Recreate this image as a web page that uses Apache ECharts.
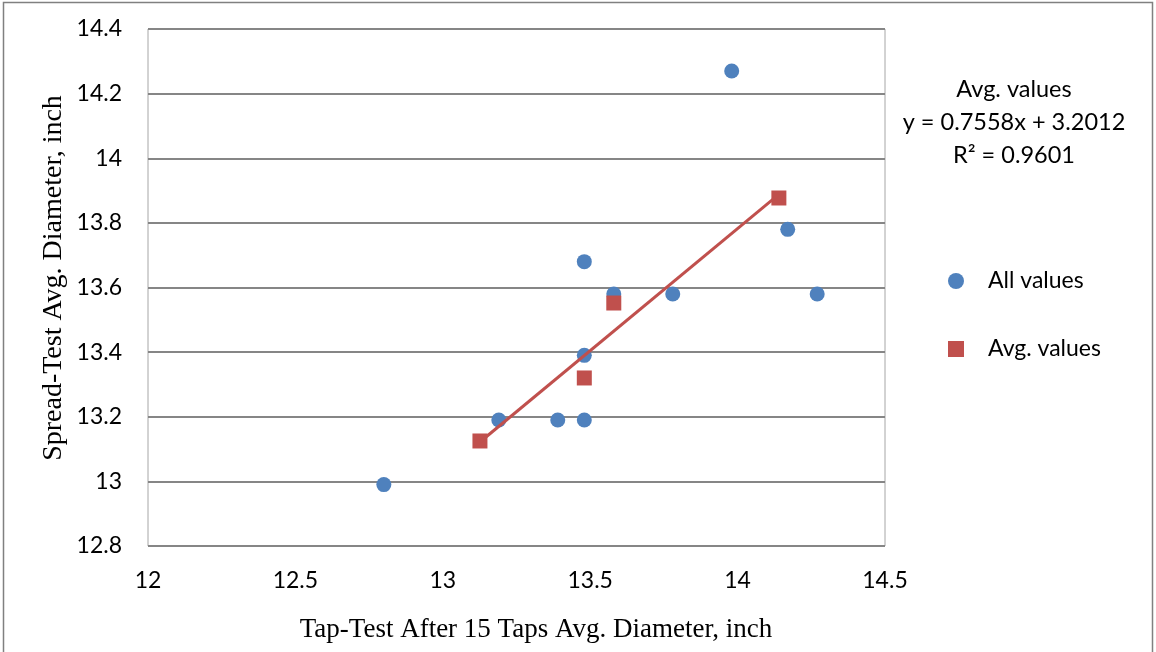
<!DOCTYPE html>
<html><head><meta charset="utf-8">
<script src="https://cdn.jsdelivr.net/npm/echarts@6/dist/echarts.min.js"></script>
<style>html,body{margin:0;padding:0;background:#fff}#c{width:1156px;height:652px}</style>
</head><body><div id="c"></div>
<script>
const allX = [12.80, 13.19, 13.39, 13.48, 13.48, 13.48, 13.58, 13.78, 14.27, 14.17, 13.98];
const allY = [12.99, 13.19, 13.19, 13.19, 13.39, 13.68, 13.58, 13.58, 13.58, 13.78, 14.27];
const avgX = [13.126, 13.48, 13.58, 14.14];
const avgY = [13.125, 13.32, 13.552, 13.877];
const trendSlope = 0.7558, trendIntercept = 3.2012;
const trendX = [13.126, 14.14];
const trendLabel = ['Avg. values', 'y = 0.7558x + 3.2012', 'R\u00b2 = 0.9601'];
const xTitle = 'Tap-Test After 15 Taps Avg. Diameter, inch';
const yTitle = 'Spread-Test Avg. Diameter, inch';

const font = 'Lato, "Open Sans", sans-serif';
const serif = '"Liberation Serif", serif';
const chart = echarts.init(document.getElementById('c'), null, {renderer: 'canvas'});
chart.setOption({
  animation: false,
  backgroundColor: '#fff',
  grid: {left: 148, right: 271, top: 29, bottom: 106, show: true, borderColor: '#a6a6a6', borderWidth: 1},
  xAxis: {
    type: 'value', min: 12, max: 14.5, interval: 0.5,
    axisLine: {show: false}, axisTick: {show: false}, splitLine: {show: false},
    axisLabel: {fontFamily: font, fontSize: 23, color: '#000', margin: 23}
  },
  yAxis: {
    type: 'value', min: 12.8, max: 14.4, interval: 0.2,
    axisLine: {show: false}, axisTick: {show: false},
    splitLine: {show: true, lineStyle: {color: '#868686', width: 2}},
    axisLabel: {fontFamily: font, fontSize: 23, color: '#000', margin: 26,
      formatter: v => String(Math.round(v * 10) / 10)}
  },
  legend: {
    orient: 'vertical', left: 943, top: 264, itemGap: 44,
    itemWidth: 16, itemHeight: 16,
    data: [{name: 'All values', icon: 'circle'}, {name: 'Avg. values', icon: 'rect'}],
    textStyle: {fontFamily: font, fontSize: 23, lineHeight: 24, color: '#000', padding: [0, 0, 0, 19]}
  },
  series: [
    {name: 'All values', type: 'scatter', symbol: 'circle', symbolSize: 15,
      itemStyle: {color: '#4f81bd', opacity: 1}, data: allX.map((x, i) => [x, allY[i]]), z: 3},
    {name: 'Avg. values', type: 'scatter', symbol: 'rect', symbolSize: 15,
      itemStyle: {color: '#c0504d', opacity: 1}, data: avgX.map((x, i) => [x, avgY[i]]), z: 4},
    {name: 'trend', type: 'line', symbol: 'none', silent: true,
      lineStyle: {color: '#c0504d', width: 3},
      data: trendX.map(x => [x, trendSlope * x + trendIntercept]), z: 5}
  ],
  graphic: [
    {type: 'rect', shape: {x: 3.5, y: 2.5, width: 1149, height: 660}, style: {fill: null, stroke: '#808080', lineWidth: 1.5}, silent: true},
    {type: 'text', x: 536, y: 630, style: {text: xTitle, fontFamily: serif, fontSize: 27, fill: '#000', textAlign: 'center', textVerticalAlign: 'middle'}},
    {type: 'text', x: 54, y: 278, rotation: Math.PI / 2, style: {text: yTitle, fontFamily: serif, fontSize: 28, fill: '#000', textAlign: 'center', textVerticalAlign: 'middle'}},
    {type: 'text', x: 1014, y: 89, style: {text: trendLabel[0], fontFamily: font, fontSize: 23.5, fill: '#000', textAlign: 'center', textVerticalAlign: 'middle'}},
    {type: 'text', x: 1014, y: 122, style: {text: trendLabel[1], fontFamily: font, fontSize: 23.5, fill: '#000', textAlign: 'center', textVerticalAlign: 'middle'}},
    {type: 'text', x: 1014, y: 155, style: {text: trendLabel[2], fontFamily: font, fontSize: 23.5, fill: '#000', textAlign: 'center', textVerticalAlign: 'middle'}}
  ]
});
</script>
</body></html>
